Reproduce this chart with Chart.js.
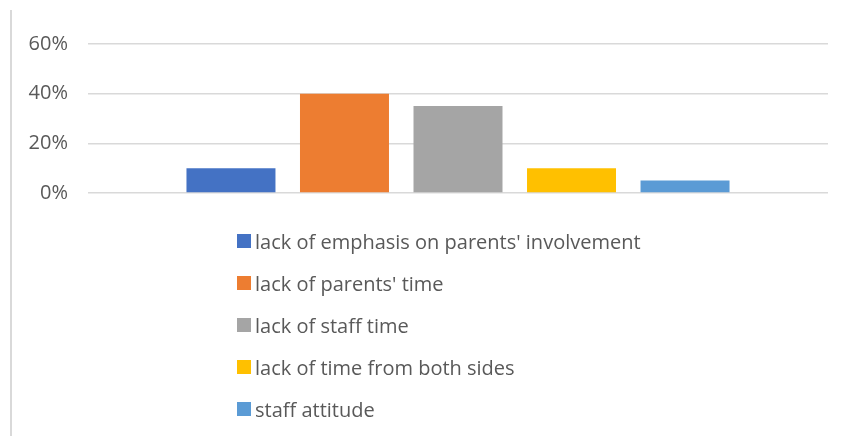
<!DOCTYPE html>
<html>
<head>
<meta charset="utf-8">
<script src="https://cdn.jsdelivr.net/npm/chart.js@4"></script>
<style>
    body { margin: 0; background: #fff; }
    #wrap { position: relative; width: 845px; height: 436px; overflow: hidden; }
    #frame { position: absolute; left: 10px; top: 10px; height: 426px; border-left: 2px solid #d9d9d9; }
    #chartBox { position: absolute; left: 0; top: 0; width: 845px; height: 225px; }
    #legend { position: absolute; left: 237px; top: 220px; font-family: "Open Sans", sans-serif; font-size: 20px; color: #595959; }
    .item { display: flex; align-items: center; height: 42px; }
    .box { width: 14px; height: 14px; margin-right: 4px; }
</style>
</head>
<body>
<div id="wrap">
    <div id="frame"></div>
    <div id="chartBox"><canvas id="chart"></canvas></div>
    <div id="legend"></div>
</div>
<script>
const categories = [''];
const seriesLabels = [
    "lack of emphasis on parents' involvement",
    "lack of parents' time",
    'lack of staff time',
    'lack of time from both sides',
    'staff attitude'
];
const seriesValues = [10, 40, 35, 10, 5];
const seriesColors = ['#4472C4', '#ED7D31', '#A5A5A5', '#FFC000', '#5B9BD5'];
const yTicks = [0, 20, 40, 60];

const datasets = seriesLabels.map((label, i) => ({
    label: label,
    data: [seriesValues[i]],
    backgroundColor: seriesColors[i],
    borderWidth: 0,
    categoryPercentage: 0.767,
    barPercentage: 0.784
}));

const ctx = document.getElementById('chart').getContext('2d');
const chart = new Chart(ctx, {
    type: 'bar',
    data: { labels: categories, datasets: datasets },
    options: {
        responsive: true,
        maintainAspectRatio: false,
        animation: false,
        layout: { padding: { left: 0, right: 17, top: 44, bottom: 7 } },
        plugins: {
            legend: { display: false },
            tooltip: { enabled: false }
        },
        scales: {
            x: { display: false },
            y: {
                min: 0,
                max: 60,
                border: { display: false },
                grid: { color: '#d9d9d9', lineWidth: 1.5, drawTicks: false },
                afterBuildTicks: scale => { scale.ticks = yTicks.map(v => ({ value: v })); },
                afterFit: scale => { scale.width = 88; },
                ticks: {
                    padding: 20,
                    color: '#595959',
                    font: { family: 'Open Sans', size: 20 },
                    callback: v => v + '%'
                }
            }
        }
    }
});

// legende verticale sous le graphique
const legend = document.getElementById('legend');
chart.data.datasets.forEach(ds => {
    const row = document.createElement('div');
    row.className = 'item';
    const box = document.createElement('span');
    box.className = 'box';
    box.style.background = ds.backgroundColor;
    const txt = document.createElement('span');
    txt.textContent = ds.label;
    txt.style.whiteSpace = 'pre';
    row.appendChild(box);
    row.appendChild(txt);
    legend.appendChild(row);
});
</script>
</body>
</html>
